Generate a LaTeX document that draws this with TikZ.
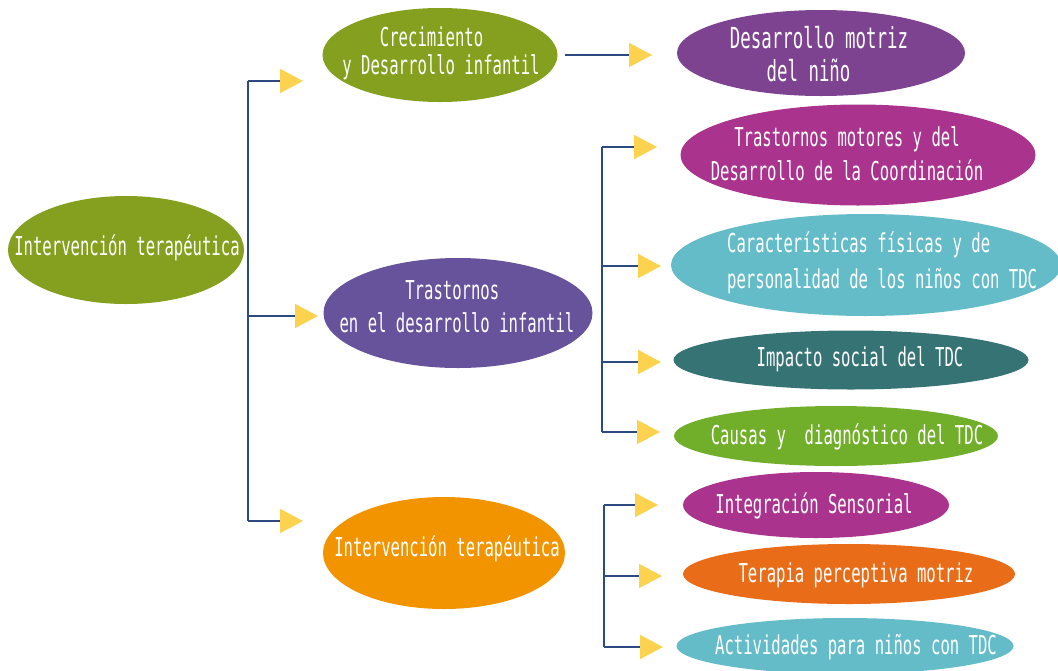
\documentclass[tikz,border=0pt]{standalone}
\usepackage{fontspec}
\setmainfont[FakeStretch=0.6]{DejaVu Sans Mono}
\usetikzlibrary{shapes.geometric,arrows.meta}
\definecolor{olive}{HTML}{84A01E}
\definecolor{purpA}{HTML}{67529C}
\definecolor{orgA}{HTML}{F29400}
\definecolor{purpB}{HTML}{7D4390}
\definecolor{magB}{HTML}{A9338D}
\definecolor{tealL}{HTML}{63BCC8}
\definecolor{tealD}{HTML}{357374}
\definecolor{grnB}{HTML}{71AE2A}
\definecolor{orgB}{HTML}{E96D19}
\definecolor{navy}{HTML}{2A4A80}
\definecolor{yel}{HTML}{FDD24F}
\tikzset{
  bub/.style n args={3}{ellipse, draw=none, fill=#1, minimum width=#2, minimum height=#3, inner sep=0pt},
  txt/.style={text=white, align=center, inner sep=0pt, font=\fontsize{26}{#1}\selectfont},
  txt/.default=30,
  line/.style={draw=navy, line width=1.6pt},
  arr/.style={line, -{Triangle[width=24pt,length=23pt,color=yel]}},
}
\begin{document}
\begin{tikzpicture}[x=1pt,y=-1pt]
\useasboundingbox (0,0) rectangle (1058,670);
% level 0
\node[bub={olive}{236pt}{108pt}] (root) at (126,250) {};
\node[txt] (troot) at (127,248) {Intervención terapéutica};
% level 1
\node[bub={olive}{235pt}{94pt}] (c1) at (440,55) {};
\node[txt=28] (tc1) at (441,53) {Crecimiento\hphantom{xx}\\y Desarrollo infantil};
\node[bub={purpA}{269pt}{110pt}] (c2) at (458,313) {};
\node[txt=33] (tc2) at (457,307) {Trastornos\hphantom{x}\\en el desarrollo infantil};
\node[bub={orgA}{242pt}{112pt}] (c3) at (444,553) {};
\node[txt] (tc3) at (447,549) {Intervención terapéutica};
% level 2
\node[bub={purpB}{288pt}{86pt}] (d1) at (821,53) {};
\node[txt=33, font=\fontsize{29}{33}\selectfont] (td1) at (819,54) {Desarrollo motriz\\del niño\hphantom{xx}};
\node[bub={magB}{355pt}{101pt}] (d2) at (858,155) {};
\node[txt=34] (td2) at (847,154) {Trastornos motores y del\\Desarrollo de la Coordinación};
\node[bub={tealL}{390pt}{102pt}] (d3) at (866,265) {};
\node[txt=36, align=left, anchor=west] (td3) at (727,263) {Características físicas y de\\personalidad de los niños con TDC};
\node[bub={tealD}{355pt}{59pt}] (d4) at (851,360) {};
\node[txt] (td4) at (860,359) {Impacto social del TDC};
\node[bub={grnB}{324pt}{60pt}] (d5) at (836,436) {};
\node[txt] (td5) at (847,437) {Causas y\ \ diagnóstico del TDC};
\node[bub={magB}{266pt}{66pt}] (e1) at (816,505) {};
\node[txt] (te1) at (814,506) {Integración Sensorial};
\node[bub={orgB}{332pt}{60pt}] (e2) at (849,574) {};
\node[txt] (te2) at (856,575) {Terapia perceptiva motriz};
\node[bub={tealL}{337pt}{56pt}] (e3) at (845,646) {};
\node[txt] (te3) at (856,647) {Actividades para niños con TDC};
% junctions and arrow ends
\coordinate (j1t) at (248,81);
\coordinate (j1b) at (248,521);
\coordinate (a1) at (303,81);
\coordinate (a2) at (318,316);
\coordinate (a3) at (303,521);
\coordinate (atop) at (652,55);
\coordinate (j2t) at (602,147);
\coordinate (j2b) at (602,432);
\coordinate (b1) at (657,147);
\coordinate (b2) at (661,266);
\coordinate (b3) at (661,362);
\coordinate (b4) at (660,432);
\coordinate (j3t) at (604,505);
\coordinate (j3b) at (604,647);
\coordinate (f1) at (658,505);
\coordinate (f2) at (662,576);
\coordinate (f3) at (663,647);
% connectors
\draw[line] (j1t) -- (j1b);
\draw[arr] (j1t) -- (a1);
\draw[arr] (j1t |- a2) -- (a2);
\draw[arr] (j1b) -- (a3);
\draw[arr] ([xshift=7pt]c1.east) -- (atop);
\draw[line] (j2t) -- (j2b);
\draw[arr] (j2t) -- (b1);
\draw[arr] (j2t |- b2) -- (b2);
\draw[arr] (j2t |- b3) -- (b3);
\draw[arr] (j2b) -- (b4);
\draw[line] (j3t) -- (j3b);
\draw[arr] (j3t) -- (f1);
\draw[arr] (j3t |- f2) -- (f2);
\draw[arr] (j3b) -- (f3);
\end{tikzpicture}
\end{document}
